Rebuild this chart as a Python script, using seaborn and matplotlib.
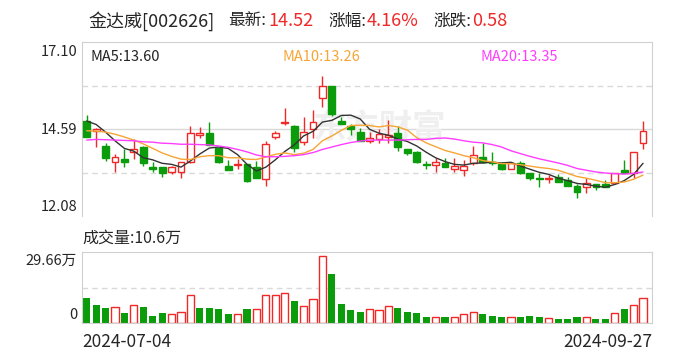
import numpy as np
import pandas as pd
import seaborn as sns
import matplotlib
matplotlib.use("Agg")
import matplotlib.pyplot as plt

# Daily candles 2024-07-04 .. 2024-09-27 (60 trading days)
opens = [14.82, 14.53, 14.11, 13.63, 13.72, 13.92, 14.08, 13.50, 13.48, 13.36,
         13.34, 13.65, 14.41, 14.47, 14.05, 13.52, 13.55, 13.58, 13.48, 13.14,
         14.37, 14.75, 14.68, 14.22, 14.58, 15.48, 15.83, 14.82, 14.68, 14.51,
         14.24, 14.29, 14.37, 14.48, 14.01, 13.94, 13.57, 13.55, 13.62, 13.43,
         13.41, 13.62, 13.77, 13.63, 13.57, 13.43, 13.60, 13.33, 13.19, 13.14,
         13.20, 13.12, 12.95, 12.91, 13.00, 13.00, 13.04, 13.41, 13.31, 14.18]
highs = [14.99, 14.62, 14.18, 13.86, 14.00, 14.29, 14.10, 13.63, 13.48, 13.52,
         13.63, 14.68, 14.64, 14.78, 14.05, 13.70, 13.72, 13.58, 13.67, 14.24,
         14.54, 15.19, 14.71, 14.93, 15.14, 16.12, 15.83, 14.94, 14.73, 14.61,
         14.51, 14.58, 14.85, 14.68, 14.01, 13.96, 13.68, 13.74, 13.74, 13.74,
         13.70, 14.10, 14.18, 13.92, 13.63, 13.64, 13.67, 13.33, 13.31, 13.26,
         13.28, 13.21, 13.00, 13.17, 13.00, 13.12, 13.31, 13.70, 13.94, 14.82]
lows = [14.36, 14.07, 13.68, 13.34, 13.49, 13.72, 13.52, 13.34, 13.21, 13.28,
        13.18, 13.62, 14.32, 14.13, 13.60, 13.42, 13.43, 13.07, 13.18, 12.95,
        14.30, 14.71, 13.94, 14.13, 14.32, 15.23, 14.97, 14.73, 14.42, 14.25,
        14.18, 14.18, 14.20, 13.96, 13.84, 13.60, 13.43, 13.36, 13.49, 13.36,
        13.24, 13.55, 13.60, 13.55, 13.41, 13.43, 13.29, 13.12, 12.93, 13.04,
        13.05, 12.95, 12.61, 12.73, 12.83, 12.91, 13.01, 13.33, 13.18, 14.01]
closes = [14.37, 14.59, 13.74, 13.79, 13.65, 14.00, 13.60, 13.45, 13.31, 13.48,
          13.63, 14.47, 14.47, 14.13, 13.65, 13.42, 13.57, 13.10, 13.18, 14.16,
          14.47, 14.80, 14.03, 14.51, 14.80, 15.83, 15.01, 14.73, 14.59, 14.25,
          14.32, 14.45, 14.43, 14.06, 13.91, 13.63, 13.55, 13.64, 13.50, 13.52,
          13.52, 13.84, 13.65, 13.60, 13.45, 13.60, 13.31, 13.18, 13.16, 13.17,
          13.05, 12.95, 12.76, 13.02, 12.93, 12.91, 13.31, 13.33, 13.94, 14.52]

ma5 = [14.82, 14.72, 14.50, 14.25, 14.03, 13.95, 13.76, 13.70, 13.60, 13.57,
       13.49, 13.67, 13.87, 14.04, 14.07, 14.03, 13.85, 13.57, 13.38, 13.49,
       13.70, 13.94, 14.13, 14.39, 14.52, 14.79, 14.84, 14.98, 14.99, 14.88,
       14.58, 14.47, 14.41, 14.30, 14.23, 14.10, 13.92, 13.76, 13.65, 13.57,
       13.55, 13.60, 13.61, 13.63, 13.61, 13.63, 13.52, 13.43, 13.34, 13.28,
       13.17, 13.10, 13.02, 12.99, 12.94, 12.91, 12.99, 13.10, 13.28, 13.60]
ma10 = [14.54, 14.53, 14.50, 14.44, 14.36, 14.27, 14.16, 14.03, 13.90, 13.80,
        13.72, 13.71, 13.79, 13.82, 13.82, 13.76, 13.76, 13.72, 13.71, 13.78,
        13.86, 13.90, 13.85, 13.89, 14.00, 14.25, 14.39, 14.55, 14.69, 14.70,
        14.69, 14.65, 14.69, 14.65, 14.56, 14.34, 14.19, 14.08, 13.97, 13.90,
        13.82, 13.76, 13.68, 13.64, 13.59, 13.59, 13.56, 13.52, 13.48, 13.45,
        13.40, 13.31, 13.22, 13.17, 13.11, 13.04, 13.04, 13.06, 13.14, 13.26]
ma20 = [14.27, 14.29, 14.28, 14.27, 14.26, 14.25, 14.22, 14.21, 14.18, 14.17,
        14.15, 14.15, 14.14, 14.13, 14.10, 14.06, 14.00, 13.93, 13.84, 13.79,
        13.79, 13.80, 13.82, 13.85, 13.91, 14.00, 14.07, 14.14, 14.20, 14.24,
        14.27, 14.27, 14.27, 14.27, 14.28, 14.29, 14.29, 14.32, 14.33, 14.30,
        14.25, 14.21, 14.19, 14.14, 14.07, 13.96, 13.88, 13.80, 13.73, 13.67,
        13.61, 13.54, 13.45, 13.40, 13.35, 13.32, 13.30, 13.29, 13.31, 13.35]

# volume in 万 shares, 1 = red (up) bar, 0 = green
volume = [10.4, 7.5, 6.3, 6.5, 4.2, 7.4, 6.7, 2.9, 4.2, 3.6,
          4.6, 11.6, 6.3, 6.3, 5.8, 3.8, 3.8, 5.8, 5.7, 11.6,
          11.6, 12.4, 9.2, 7.0, 9.9, 28.0, 20.5, 7.9, 5.4, 4.6,
          5.7, 5.4, 7.0, 6.3, 4.6, 4.2, 2.4, 2.4, 2.4, 2.4,
          3.8, 4.6, 3.8, 2.9, 2.4, 2.4, 2.4, 2.8, 2.4, 1.9,
          1.7, 1.7, 2.4, 2.4, 1.7, 1.7, 4.2, 5.8, 7.5, 10.6]
vol_up = [0, 0, 0, 1, 0, 1, 0, 0, 0, 1,
          1, 1, 0, 0, 0, 0, 1, 0, 1, 1,
          1, 1, 0, 1, 1, 1, 0, 0, 0, 0,
          1, 1, 1, 0, 0, 0, 0, 1, 0, 1,
          1, 1, 0, 0, 0, 1, 0, 0, 0, 1,
          0, 0, 0, 1, 0, 0, 1, 0, 1, 1]

price_ticks = [12.08, 14.59, 17.10]
vol_max = 29.66
date_labels = ["2024-07-04", "2024-09-27"]

RED = "#f02828"
GREEN = "#0a9c0a"
GRID = "#d9d9d9"

sns.set_style("white")
plt.rcParams["font.family"] = ["Noto Sans CJK SC", "DejaVu Sans"]

df = pd.DataFrame({"i": np.arange(len(closes)), "open": opens, "high": highs,
                   "low": lows, "close": closes, "ma5": ma5, "ma10": ma10,
                   "ma20": ma20, "vol": volume, "up": vol_up})

W, H = 688, 360
fig = plt.figure(figsize=(W / 100, H / 100), dpi=100)
ax = fig.add_axes([82 / W, 1 - 216 / H, 570 / W, 174 / H])
axv = fig.add_axes([82 / W, 1 - 323 / H, 570 / W, 71 / H])

# price panel
ax.axhline(15.845, color=GRID, lw=1, ls=(0, (4, 3)), zorder=0)
ax.axhline(14.59, color=GRID, lw=1, zorder=0)
ax.axhline(13.335, color=GRID, lw=1, ls=(0, (4, 3)), zorder=0)
ax.text(0.52, 0.5, "东方财富", transform=ax.transAxes, fontsize=24,
        color="#efefef", ha="center", va="center", zorder=0, fontweight="bold")

for _, r in df.iterrows():
    up = r["close"] > r["open"]
    col = RED if up else GREEN
    ax.vlines(r["i"], r["low"], r["high"], color=col, lw=1, zorder=2)
    lo = min(r["open"], r["close"])
    hgt = max(abs(r["close"] - r["open"]), 0.012)
    ax.bar(r["i"], hgt, bottom=lo, width=0.72,
           facecolor="white" if up else GREEN, edgecolor=col, lw=1, zorder=3)

sns.lineplot(data=df, x="i", y="ma5", ax=ax, color="#333333", lw=1, zorder=4)
sns.lineplot(data=df, x="i", y="ma10", ax=ax, color="#f7a535", lw=1, zorder=4)
sns.lineplot(data=df, x="i", y="ma20", ax=ax, color="#ff3dff", lw=1, zorder=4)

ax.set_xlim(-0.5, 59.95)
ax.set_ylim(price_ticks[0], price_ticks[-1])
ax.set_xticks([])
ax.set_yticks([])
ax.set_xlabel("")
ax.set_ylabel("")
for s in ax.spines.values():
    s.set_color("#d0d0d0")
ax.spines["bottom"].set_visible(False)

# volume panel
axv.axhline(vol_max / 2, color=GRID, lw=1, ls=(0, (4, 3)), zorder=0)
up_df = df[df["up"] == 1]
dn_df = df[df["up"] == 0]
axv.bar(up_df["i"], up_df["vol"], width=0.76, facecolor="white",
        edgecolor=RED, lw=1, zorder=2)
axv.bar(dn_df["i"], dn_df["vol"], width=0.76, color=GREEN, lw=0, zorder=2)
axv.set_xlim(-0.5, 59.95)
axv.set_ylim(0, vol_max)
axv.set_xticks([])
axv.set_yticks([])
for s in axv.spines.values():
    s.set_color("#d0d0d0")


def px(x, y):
    return x / W, 1 - y / H


fs = 12
# header line
fig.text(*px(88, 21), "金达威[002626]", fontsize=13, va="center", ha="left")
fig.text(*px(228, 21), "最新:", fontsize=fs, va="center", ha="left")
fig.text(*px(268, 21), "14.52", fontsize=13, va="center", ha="left", color=RED)
fig.text(*px(328, 21), "涨幅:", fontsize=fs, va="center", ha="left")
fig.text(*px(367, 21), "4.16%", fontsize=13, va="center", ha="left", color=RED)
fig.text(*px(433, 21), "涨跌:", fontsize=fs, va="center", ha="left")
fig.text(*px(472, 21), "0.58", fontsize=13, va="center", ha="left", color=RED)

# MA legend
fig.text(*px(90, 57), "MA5:13.60", fontsize=10.5, va="center", color="#222222")
fig.text(*px(282, 57), "MA10:13.26", fontsize=10.5, va="center", color="#f7a535")
fig.text(*px(480, 57), "MA20:13.35", fontsize=10.5, va="center", color="#ff3dff")

# price labels
fig.text(*px(77, 52), f"{price_ticks[2]:.2f}", fontsize=10.5, va="center", ha="right")
fig.text(*px(77, 130), f"{price_ticks[1]:.2f}", fontsize=10.5, va="center", ha="right")
fig.text(*px(77, 207), f"{price_ticks[0]:.2f}", fontsize=10.5, va="center", ha="right")

# volume labels
fig.text(*px(82, 238), "成交量:10.6万", fontsize=11.5, va="center", ha="left")
fig.text(*px(77, 261), f"{vol_max:.2f}万", fontsize=10.5, va="center", ha="right")
fig.text(*px(77, 315), "0", fontsize=10.5, va="center", ha="right")

# dates
fig.text(*px(82, 342), date_labels[0], fontsize=12.5, va="center", ha="left")
fig.text(*px(652, 342), date_labels[1], fontsize=12.5, va="center", ha="right")

fig.savefig("out.png", dpi=100, facecolor="white")
